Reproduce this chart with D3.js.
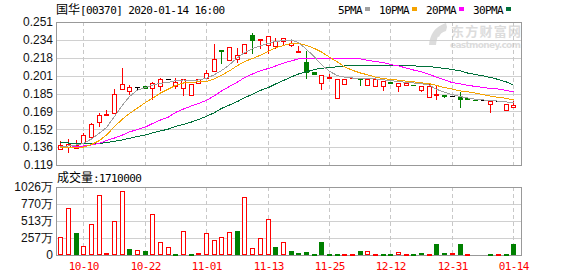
<!DOCTYPE html>
<html>
<head>
<meta charset="utf-8">
<script src="https://d3js.org/d3.v7.min.js"></script>
<style>
	body { margin: 0; background: #fff; }
	svg { display: block; }
</style>
</head>
<body>
<script type="text/javascript">

	var w = 578;
	var h = 276;

	var stockName = "国华";
	var stockCode = "[00370]";
	var stamp = "2020-01-14 16:00";

	var dates = ["10-04","10-08","10-09","10-10","10-11","10-14","10-15","10-16","10-17","10-18",
		"10-21","10-22","10-23","10-24","10-25","10-28","10-29","10-30","10-31","11-01",
		"11-04","11-05","11-06","11-07","11-08","11-11","11-12","11-13","11-14","11-15",
		"11-18","11-19","11-20","11-21","11-22","11-25","11-26","11-28","12-02","12-04",
		"12-05","12-09","12-10","12-12","12-13","12-16","12-18","12-19","12-20","12-23",
		"12-27","12-31","01-02","01-03","01-06","01-07","01-08","01-10","01-13","01-14"];

	var open  = [.134,.136,.135,.139,.145,.159,.165,.167,.189,.187,
		.191,.192,.190,.192,.198,.192,.190,.184,.195,.199,
		.206,.225,.216,.217,.222,.239,.234,.230,.229,.233,
		.230,.223,.214,.205,.195,.199,.181,.194,.199,.199,
		.193,.192,.192,.196,.192,.193,.193,.188,.182,.184,
		.184,.183,.182,.181,.179,.179,.175,.178,.170,.173];
	var high  = [.141,.143,.142,.149,.158,.167,.170,.189,.209,.193,
		.191,.192,.196,.199,.198,.199,.198,.194,.198,.207,
		.231,.225,.228,.227,.231,.241,.235,.238,.236,.236,
		.234,.229,.224,.205,.202,.203,.198,.198,.199,.199,
		.198,.198,.197,.196,.195,.195,.193,.192,.194,.193,
		.184,.183,.186,.181,.179,.179,.178,.178,.175,.178];
	var low   = [.134,.131,.135,.139,.145,.155,.165,.167,.189,.185,
		.189,.190,.180,.188,.198,.190,.184,.184,.195,.199,
		.206,.213,.216,.214,.222,.222,.227,.222,.227,.230,
		.229,.223,.199,.203,.189,.199,.181,.194,.199,.193,
		.193,.192,.188,.195,.187,.193,.193,.187,.182,.180,
		.182,.183,.173,.180,.179,.179,.168,.178,.170,.173];
	var close = [.137,.138,.137,.147,.157,.165,.166,.185,.194,.191,
		.191,.190,.195,.198,.198,.196,.198,.194,.198,.204,
		.217,.224,.228,.221,.231,.234,.235,.238,.233,.236,
		.232,.224,.205,.203,.202,.200,.198,.198,.199,.198,
		.198,.198,.197,.195,.195,.195,.193,.192,.192,.185,
		.183,.183,.180,.180,.179,.179,.178,.178,.175,.174];

	// 万股
	var volume = [277,704,337,136,463,905,30,513,966,91,
		70,60,614,196,121,15,362,15,30,327,
		221,272,342,362,870,106,252,543,121,191,
		60,30,45,15,196,15,15,15,15,60,
		60,15,15,15,40,15,15,30,15,166,
		30,30,166,15,0,0,15,15,15,171];

	var ma5  = [.1359,.1366,.1375,.1390,.1430,.1485,.1536,.1638,.1744,.1822,
		.1882,.1904,.1928,.1944,.1952,.1970,.1975,.1970,.1975,.1990,
		.2024,.2061,.2116,.2181,.2227,.2264,.2291,.2313,.2332,.2337,
		.2344,.2319,.2258,.2187,.2116,.2055,.2014,.2002,.1993,.1990,
		.1984,.1984,.1977,.1968,.1961,.1953,.1947,.1941,.1927,.1889,
		.1861,.1839,.1821,.1809,.1797,.1790,.1785,.1780,.1772,.1765];
	var ma10 = [.1350,.1352,.1354,.1356,.1379,.1416,.1467,.1544,.1615,.1665,
		.1716,.1767,.1806,.1855,.1892,.1924,.1947,.1953,.1958,.1961,
		.1986,.2019,.2059,.2108,.2145,.2173,.2204,.2240,.2273,.2293,
		.2312,.2313,.2295,.2265,.2233,.2186,.2141,.2096,.2064,.2039,
		.2023,.2001,.1988,.1980,.1973,.1964,.1958,.1949,.1940,.1924,
		.1905,.1890,.1874,.1866,.1853,.1839,.1825,.1815,.1805,.1790];
	var ma20 = [.1354,.1355,.1358,.1366,.1375,.1390,.1416,.1439,.1467,.1495,
		.1518,.1541,.1573,.1605,.1633,.1675,.1707,.1735,.1758,.1787,
		.1830,.1873,.1915,.1956,.1996,.2030,.2061,.2081,.2104,.2130,
		.2152,.2169,.2174,.2175,.2175,.2175,.2175,.2175,.2175,.2169,
		.2157,.2145,.2136,.2118,.2104,.2085,.2067,.2049,.2025,.2001,
		.1975,.1950,.1938,.1926,.1915,.1905,.1897,.1891,.1878,.1864];
	var ma30 = [.1398,.1393,.1390,.1389,.1389,.1390,.1396,.1409,.1421,.1437,
		.1453,.1467,.1486,.1504,.1522,.1546,.1564,.1587,.1610,.1640,
		.1673,.1712,.1744,.1776,.1811,.1843,.1879,.1905,.1938,.1970,
		.2004,.2030,.2049,.2072,.2083,.2090,.2097,.2104,.2107,.2108,
		.2110,.2113,.2113,.2111,.2109,.2108,.2105,.2101,.2097,.2092,
		.2081,.2072,.2058,.2039,.2025,.2012,.1998,.1979,.1956,.1928];

	var maNames = ["5PMA","10PMA","20PMA","30PMA"];
	var maColors = ["#a0a0a0","#f5a300","#ff00ff","#00703a"];

	var priceMin = 0.119, priceMax = 0.251;
	var priceTicks = ["0.119","0.136","0.152","0.169","0.185","0.201","0.218","0.234","0.251"];
	var volMax = 1026;
	var volTicks = ["0","257万","513万","770万","1026万"];
	var dateTicks = ["10-10","10-22","11-01","11-13","11-25","12-12","12-31","01-14"];

	var RED = "#ff0000", GREEN = "#008000";
	var CJK = "'Noto Sans CJK SC', sans-serif";
	var MONO = "'DejaVu Sans Mono', monospace";
	var SANS = "'Liberation Sans', Arial, sans-serif";

	var L = 56, R = 522, T = 22, B = 165, VT = 187, VB = 255;

	var svg = d3.select("body").append("svg")
		.attr("width", w)
		.attr("height", h);

	var x = d3.scaleBand().domain(dates).range([56.3, 517.1]);
	function cx(d) { return Math.round(x(d) + x.bandwidth() / 2); }
	var y = d3.scaleLinear().domain([priceMin, priceMax]).range([B, T]);
	var yv = d3.scaleLinear().domain([0, volMax]).range([VB, VT]);

	// watermark
	var wm = svg.append("g").attr("fill", "#dcdcdc");
	wm.append("path")
		.attr("d", "M429,45 C430,35 434,27 446,23 L447,27 C440,30 437,36 436,45 Z M437,36 C439,31 442,28 447,27 L446,31 C442,32 440,34 439,37 Z");
	wm.append("text").attr("x", 521).attr("y", 35.5).attr("text-anchor", "end")
		.style("font-family", CJK).style("font-size", "13px").style("font-weight", "bold")
		.attr("textLength", 70)
		.text("东方财富网");
	wm.append("text").attr("x", 521).attr("y", 47.5).attr("text-anchor", "end")
		.style("font-family", "'DejaVu Sans', sans-serif").style("font-size", "9px").style("font-weight", "bold")
		.attr("textLength", 71)
		.text("eastmoney.com");

	// horizontal grid
	var pStep = (priceMax - priceMin) / (priceTicks.length - 1);
	svg.selectAll(".pgrid")
		.data(priceTicks)
		.enter()
		.append("line")
		.attr("x1", L).attr("x2", R)
		.attr("y1", function(d, i) { return Math.round(y(priceMin + i * pStep)) + 0.5; })
		.attr("y2", function(d, i) { return Math.round(y(priceMin + i * pStep)) + 0.5; })
		.attr("stroke", "#d0d0d0");

	var vStep = volMax / (volTicks.length - 1);
	svg.selectAll(".vgrid")
		.data(volTicks)
		.enter()
		.append("line")
		.attr("x1", L).attr("x2", R)
		.attr("y1", function(d, i) { return Math.round(yv(i * vStep)) + 0.5; })
		.attr("y2", function(d, i) { return Math.round(yv(i * vStep)) + 0.5; })
		.attr("stroke", "#d0d0d0");

	// vertical dashed grid
	dateTicks.forEach(function(d) {
		[[T, B], [VT, VB]].forEach(function(r) {
			svg.append("line")
				.attr("x1", cx(d) + 0.5).attr("x2", cx(d) + 0.5)
				.attr("y1", r[0]).attr("y2", r[1])
				.attr("stroke", "#c8c8c8")
				.attr("stroke-dasharray", "4,3");
		});
	});

	// frames
	[[T, B], [VT, VB]].forEach(function(r) {
		svg.append("rect")
			.attr("x", L + 0.5).attr("y", r[0] + 0.5)
			.attr("width", R - L - 1).attr("height", r[1] - r[0])
			.attr("fill", "none")
			.attr("stroke", "#999");
	});

	// candles
	function dir(i) {
		if (close[i] > open[i]) return 1;
		if (close[i] < open[i]) return -1;
		var p = i > 0 ? close[i - 1] : close[i];
		return close[i] > p ? 1 : (close[i] < p ? -1 : 0);
	}
	function col(k) { return k > 0 ? RED : (k < 0 ? GREEN : "#000"); }

	var candles = svg.append("g").attr("shape-rendering", "crispEdges");
	dates.forEach(function(d, i) {
		var c = col(dir(i));
		var xc = cx(d);
		candles.append("line")
			.attr("x1", xc + 0.5).attr("x2", xc + 0.5)
			.attr("y1", Math.round(y(high[i]))).attr("y2", Math.round(y(low[i])) + 1)
			.attr("stroke", c);
		var yt = Math.round(y(Math.max(open[i], close[i])));
		var yb = Math.round(y(Math.min(open[i], close[i])));
		if (yb - yt < 1) {
			candles.append("line")
				.attr("x1", xc - 2).attr("x2", xc + 3)
				.attr("y1", yt + 0.5).attr("y2", yt + 0.5)
				.attr("stroke", c);
		} else {
			candles.append("rect")
				.attr("x", xc - 2 + 0.5).attr("y", yt + 0.5)
				.attr("width", 4).attr("height", yb - yt)
				.attr("fill", close[i] > open[i] ? "#fff" : c)
				.attr("stroke", c);
		}
	});

	// moving averages
	var line = d3.line()
		.x(function(d, i) { return cx(dates[i]) + 0.5; })
		.y(function(d) { return y(d); });
	[ma30, ma20, ma10, ma5].forEach(function(s, k) {
		svg.append("path")
			.attr("d", line(s))
			.attr("fill", "none")
			.attr("stroke", maColors[3 - k])
			.attr("stroke-width", 1)
			.attr("shape-rendering", "crispEdges");
	});

	// volume bars
	var vols = svg.append("g").attr("shape-rendering", "crispEdges");
	dates.forEach(function(d, i) {
		if (!volume[i]) return;
		var up = i === 0 || close[i] >= close[i - 1];
		var xc = cx(d);
		var top = Math.round(yv(volume[i]));
		vols.append("rect")
			.attr("x", xc - 2 + 0.5).attr("y", top + 0.5)
			.attr("width", 4).attr("height", Math.max(VB - top - 1, 0.5))
			.attr("fill", up ? "#fff" : GREEN)
			.attr("stroke", up ? RED : GREEN);
	});

	// price labels
	svg.selectAll(".plab")
		.data(priceTicks)
		.enter()
		.append("text")
		.attr("x", 53)
		.attr("y", function(d, i) { return y(priceMin + i * pStep); })
		.attr("dy", "0.36em")
		.attr("text-anchor", "end")
		.style("font-family", SANS).style("font-size", "12px")
		.attr("fill", "#111")
		.text(function(d) { return d; });

	svg.selectAll(".vlab")
		.data(volTicks)
		.enter()
		.append("text")
		.attr("x", 53)
		.attr("y", function(d, i) { return yv(i * vStep); })
		.attr("dy", "0.36em")
		.attr("text-anchor", "end")
		.style("font-family", SANS).style("font-size", "12px")
		.attr("fill", "#111")
		.text(function(d) { return d; });

	// date labels
	svg.selectAll(".dlab")
		.data(dateTicks)
		.enter()
		.append("text")
		.attr("x", function(d) { return cx(d) + 0.8; })
		.attr("y", 269.5)
		.attr("text-anchor", "middle")
		.style("font-family", MONO).style("font-size", "11px").style("letter-spacing", "-0.6px")
		.attr("fill", RED)
		.text(function(d) { return d; });

	// title
	var title = svg.append("text").attr("x", L).attr("y", 13.5).attr("fill", "#000");
	title.append("tspan").style("font-family", CJK).style("font-size", "12px").text(stockName);
	title.append("tspan").style("font-family", MONO).style("font-size", "11px").style("letter-spacing", "-0.6px")
		.text(stockCode + " " + stamp);

	// volume caption
	var cap = svg.append("text").attr("x", 57).attr("y", 181.5).attr("fill", "#000");
	cap.append("tspan").style("font-family", CJK).style("font-size", "12px").text("成交量");
	cap.append("tspan").style("font-family", MONO).style("font-size", "11px").style("letter-spacing", "-0.6px")
		.text(":" + Math.round(volume[volume.length - 1] * 10000));

	// legend
	var lx = 338;
	maNames.forEach(function(n, k) {
		svg.append("text")
			.attr("x", lx).attr("y", 13.5)
			.style("font-family", MONO).style("font-size", "11px").style("letter-spacing", "-0.6px")
			.attr("fill", "#000")
			.text(n);
		lx += n.length * 6 + 3;
		svg.append("rect")
			.attr("x", lx).attr("y", 7)
			.attr("width", 5).attr("height", 4)
			.attr("fill", maColors[k]);
		lx += 5 + 9;
	});

</script>
</body>
</html>
